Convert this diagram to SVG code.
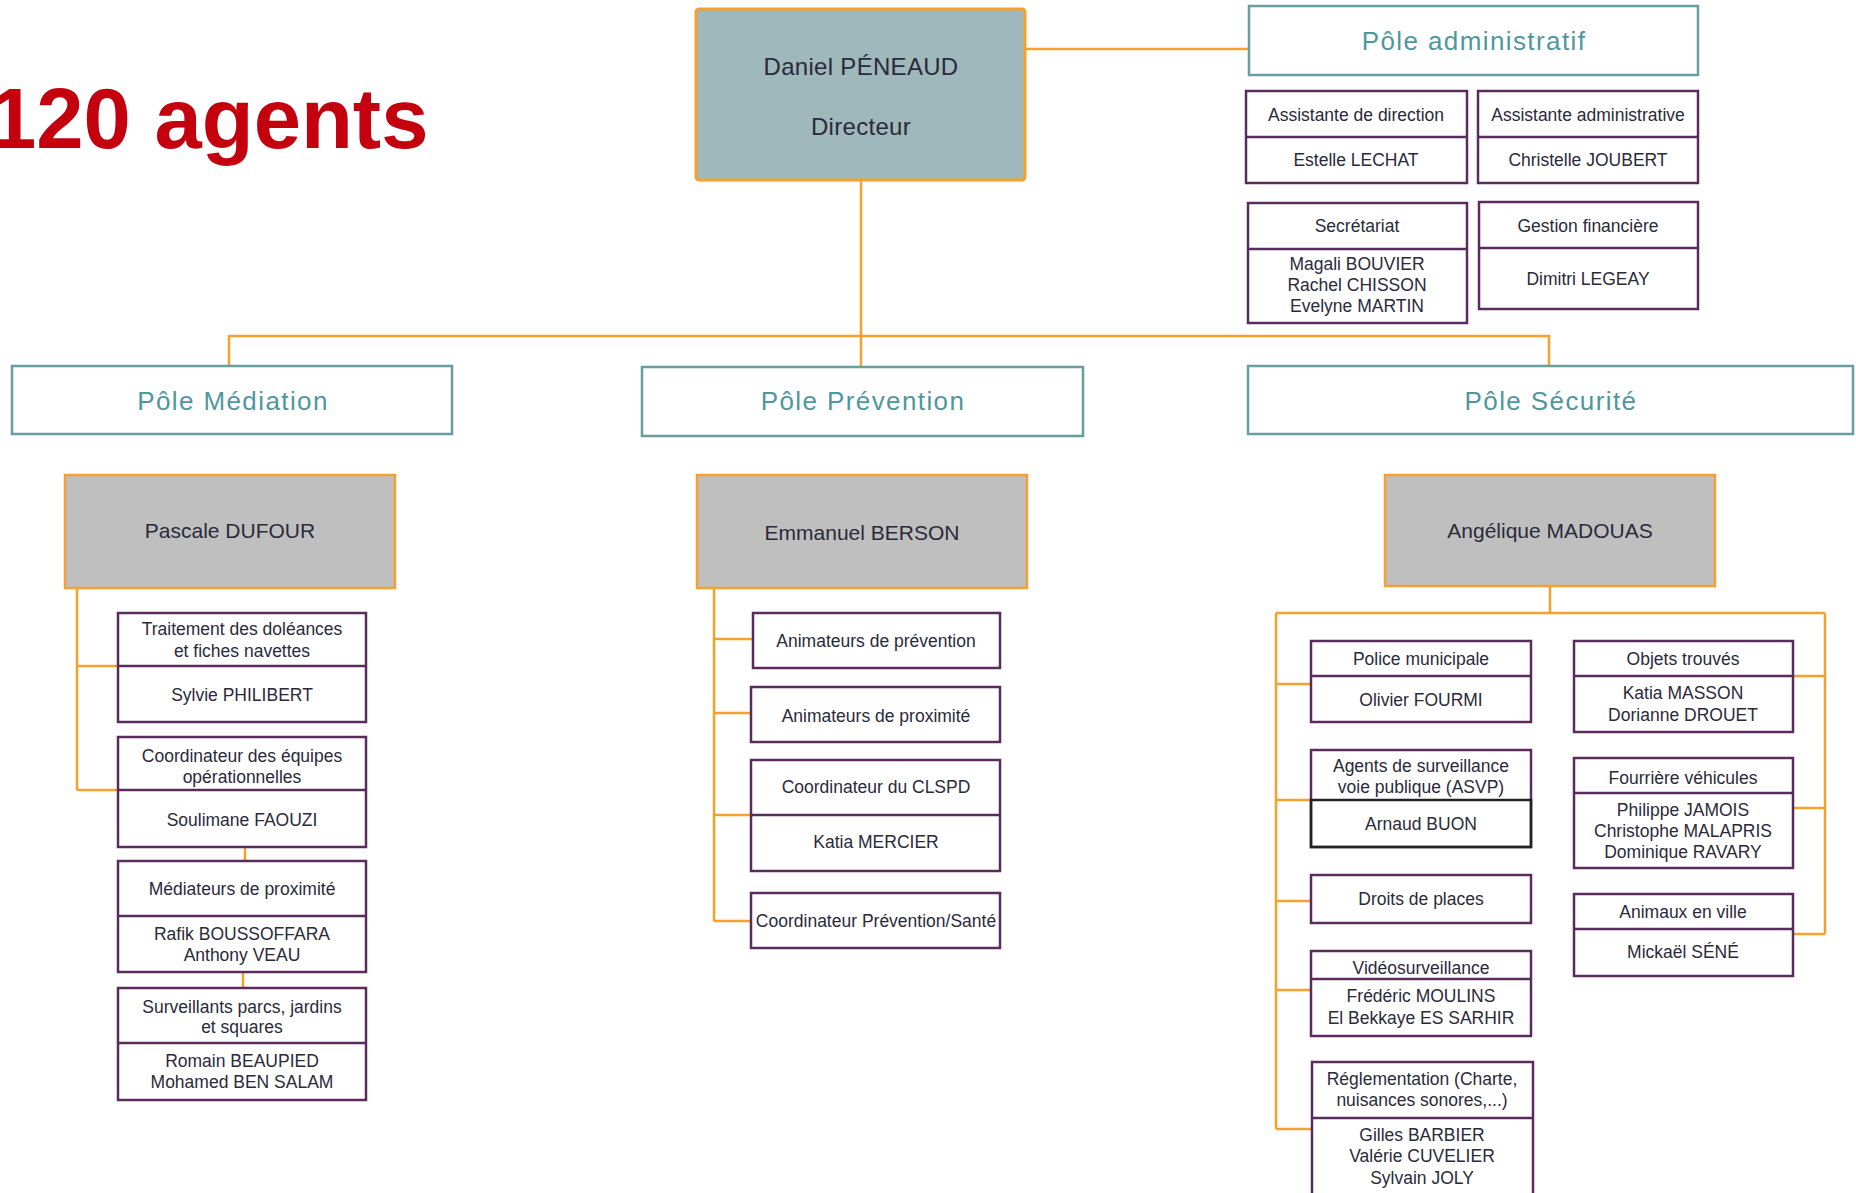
<svg xmlns="http://www.w3.org/2000/svg" width="1856" height="1193" viewBox="0 0 1856 1193">
<style>
text{font-family:"Liberation Sans",Arial,sans-serif;fill:#2b2a3a;text-anchor:middle}
.big{font-family:"Liberation Sans",Arial,sans-serif;font-weight:bold;font-size:85px;fill:#c4000f;text-anchor:start}
.dir{fill:#9fb8bb;stroke:#f7a12c;stroke-width:3}
.mgr{fill:#bfbfbf;stroke:#f7a12c;stroke-width:2.5}
.pole{fill:#fff;stroke:#6a9d9e;stroke-width:2.5}
.pt{font-size:26px;fill:#4f979b;letter-spacing:1.4px}
.mt{font-size:21px}
.dt{font-size:24px;letter-spacing:0.3px}
.box{fill:#fff;stroke:#5a2c5e;stroke-width:2.5}
.sep{stroke:#5a2c5e;stroke-width:2.5}
.st{font-size:17.5px}
.con{fill:none;stroke:#f7a12c;stroke-width:2.5}
</style>
<rect width="1856" height="1193" fill="#fff"/>
<text class="big" x="-11" y="148">120 agents</text>

<g id="connectors">
<path class="con" d="M1025,49 H1249"/>
<path class="con" d="M861,180 V367"/>
<path class="con" d="M229,336 H1549 M229,335 V366 M1549,335 V366"/>
<path class="con" d="M77,588 V790 M77,666 H118 M77,790 H118 M245,847 V861 M243,972 V988"/>
<path class="con" d="M714,588 V921 M714,639 H753 M714,713 H751 M714,815 H751 M714,921 H751"/>
<path class="con" d="M1550,586 V613 M1276,613 H1825 M1276,613 V1129 M1276,684 H1311 M1276,800 H1311 M1276,901 H1311 M1276,990 H1311 M1276,1129 H1312 M1825,613 V934 M1793,676 H1825 M1793,808 H1825 M1793,934 H1825"/>
</g>

<g id="directeur">
<rect class="dir" x="696" y="9" width="329" height="171" rx="3"/>
<text class="dt" x="861" y="75">Daniel PÉNEAUD</text>
<text class="dt" x="861" y="135">Directeur</text>
</g>

<g id="pole-administratif">
<rect class="pole" x="1249" y="6" width="449" height="69"/>
<text class="pt" x="1474" y="50">Pôle administratif</text>
</g>
<g id="assistante-direction">
<rect class="box" x="1246" y="91" width="221" height="92"/>
<line class="sep" x1="1246" y1="137" x2="1467" y2="137"/>
<text class="st" x="1356" y="121">Assistante de direction</text>
<text class="st" x="1356" y="166">Estelle LECHAT</text>
</g>
<g id="assistante-administrative">
<rect class="box" x="1478" y="91" width="220" height="92"/>
<line class="sep" x1="1478" y1="137" x2="1698" y2="137"/>
<text class="st" x="1588" y="121">Assistante administrative</text>
<text class="st" x="1588" y="166">Christelle JOUBERT</text>
</g>
<g id="secretariat">
<rect class="box" x="1248" y="203" width="219" height="120"/>
<line class="sep" x1="1248" y1="249" x2="1467" y2="249"/>
<text class="st" x="1357" y="232">Secrétariat</text>
<text class="st" x="1357" y="270">Magali BOUVIER</text>
<text class="st" x="1357" y="291">Rachel CHISSON</text>
<text class="st" x="1357" y="312">Evelyne MARTIN</text>
</g>
<g id="gestion-financiere">
<rect class="box" x="1479" y="202" width="219" height="107"/>
<line class="sep" x1="1479" y1="248" x2="1698" y2="248"/>
<text class="st" x="1588" y="232">Gestion financière</text>
<text class="st" x="1588" y="285">Dimitri LEGEAY</text>
</g>

<g id="pole-mediation">
<rect class="pole" x="12" y="366" width="440" height="68"/>
<text class="pt" x="233" y="410">Pôle Médiation</text>
</g>
<g id="pole-prevention">
<rect class="pole" x="642" y="367" width="441" height="69"/>
<text class="pt" x="863" y="410">Pôle Prévention</text>
</g>
<g id="pole-securite">
<rect class="pole" x="1248" y="366" width="605" height="68"/>
<text class="pt" x="1551" y="410">Pôle Sécurité</text>
</g>

<g id="pascale-dufour">
<rect class="mgr" x="65" y="475" width="330" height="113"/>
<text class="mt" x="230" y="538">Pascale DUFOUR</text>
</g>
<g id="emmanuel-berson">
<rect class="mgr" x="697" y="475" width="330" height="113"/>
<text class="mt" x="862" y="540">Emmanuel BERSON</text>
</g>
<g id="angelique-madouas">
<rect class="mgr" x="1385" y="475" width="330" height="111"/>
<text class="mt" x="1550" y="538">Angélique MADOUAS</text>
</g>

<g id="traitement-doleances">
<rect class="box" x="118" y="613" width="248" height="109"/>
<line class="sep" x1="118" y1="666" x2="366" y2="666"/>
<text class="st" x="242" y="635">Traitement des doléances</text>
<text class="st" x="242" y="657">et fiches navettes</text>
<text class="st" x="242" y="701">Sylvie PHILIBERT</text>
</g>
<g id="coordinateur-equipes">
<rect class="box" x="118" y="737" width="248" height="110"/>
<line class="sep" x1="118" y1="790" x2="366" y2="790"/>
<text class="st" x="242" y="762">Coordinateur des équipes</text>
<text class="st" x="242" y="783">opérationnelles</text>
<text class="st" x="242" y="826">Soulimane FAOUZI</text>
</g>
<g id="mediateurs-proximite">
<rect class="box" x="118" y="861" width="248" height="111"/>
<line class="sep" x1="118" y1="916" x2="366" y2="916"/>
<text class="st" x="242" y="895">Médiateurs de proximité</text>
<text class="st" x="242" y="940">Rafik BOUSSOFFARA</text>
<text class="st" x="242" y="961">Anthony VEAU</text>
</g>
<g id="surveillants-parcs">
<rect class="box" x="118" y="988" width="248" height="112"/>
<line class="sep" x1="118" y1="1043" x2="366" y2="1043"/>
<text class="st" x="242" y="1013">Surveillants parcs, jardins</text>
<text class="st" x="242" y="1033">et squares</text>
<text class="st" x="242" y="1067">Romain BEAUPIED</text>
<text class="st" x="242" y="1088">Mohamed BEN SALAM</text>
</g>

<g id="animateurs-prevention">
<rect class="box" x="753" y="613" width="247" height="55"/>
<text class="st" x="876" y="647">Animateurs de prévention</text>
</g>
<g id="animateurs-proximite">
<rect class="box" x="751" y="687" width="249" height="55"/>
<text class="st" x="876" y="722">Animateurs de proximité</text>
</g>
<g id="coordinateur-clspd">
<rect class="box" x="751" y="760" width="249" height="111"/>
<line class="sep" x1="751" y1="815" x2="1000" y2="815"/>
<text class="st" x="876" y="793">Coordinateur du CLSPD</text>
<text class="st" x="876" y="848">Katia MERCIER</text>
</g>
<g id="coordinateur-sante">
<rect class="box" x="751" y="893" width="249" height="55"/>
<text class="st" x="876" y="927">Coordinateur Prévention/Santé</text>
</g>

<g id="police-municipale">
<rect class="box" x="1311" y="641" width="220" height="81"/>
<line class="sep" x1="1311" y1="676" x2="1531" y2="676"/>
<text class="st" x="1421" y="665">Police municipale</text>
<text class="st" x="1421" y="706">Olivier FOURMI</text>
</g>
<g id="asvp">
<rect class="box" x="1311" y="750" width="220" height="97"/>
<rect x="1311" y="800" width="220" height="47" fill="none" stroke="#222" stroke-width="2.5"/>
<text class="st" x="1421" y="772">Agents de surveillance</text>
<text class="st" x="1421" y="793">voie publique (ASVP)</text>
<text class="st" x="1421" y="830">Arnaud BUON</text>
</g>
<g id="droits-places">
<rect class="box" x="1311" y="875" width="220" height="48"/>
<text class="st" x="1421" y="905">Droits de places</text>
</g>
<g id="videosurveillance">
<rect class="box" x="1311" y="951" width="220" height="85"/>
<line class="sep" x1="1311" y1="979" x2="1531" y2="979"/>
<text class="st" x="1421" y="974">Vidéosurveillance</text>
<text class="st" x="1421" y="1002">Frédéric MOULINS</text>
<text class="st" x="1421" y="1024">El Bekkaye ES SARHIR</text>
</g>
<g id="reglementation">
<rect class="box" x="1312" y="1062" width="221" height="150"/>
<line class="sep" x1="1312" y1="1118" x2="1533" y2="1118"/>
<text class="st" x="1422" y="1085">Réglementation (Charte,</text>
<text class="st" x="1422" y="1106">nuisances sonores,...)</text>
<text class="st" x="1422" y="1141">Gilles BARBIER</text>
<text class="st" x="1422" y="1162">Valérie CUVELIER</text>
<text class="st" x="1422" y="1184">Sylvain JOLY</text>
</g>
<g id="objets-trouves">
<rect class="box" x="1574" y="641" width="219" height="91"/>
<line class="sep" x1="1574" y1="676" x2="1793" y2="676"/>
<text class="st" x="1683" y="665">Objets trouvés</text>
<text class="st" x="1683" y="699">Katia MASSON</text>
<text class="st" x="1683" y="721">Dorianne DROUET</text>
</g>
<g id="fourriere">
<rect class="box" x="1574" y="758" width="219" height="110"/>
<line class="sep" x1="1574" y1="793" x2="1793" y2="793"/>
<text class="st" x="1683" y="784">Fourrière véhicules</text>
<text class="st" x="1683" y="816">Philippe JAMOIS</text>
<text class="st" x="1683" y="837">Christophe MALAPRIS</text>
<text class="st" x="1683" y="858">Dominique RAVARY</text>
</g>
<g id="animaux">
<rect class="box" x="1574" y="894" width="219" height="82"/>
<line class="sep" x1="1574" y1="929" x2="1793" y2="929"/>
<text class="st" x="1683" y="918">Animaux en ville</text>
<text class="st" x="1683" y="958">Mickaël SÉNÉ</text>
</g>
</svg>
